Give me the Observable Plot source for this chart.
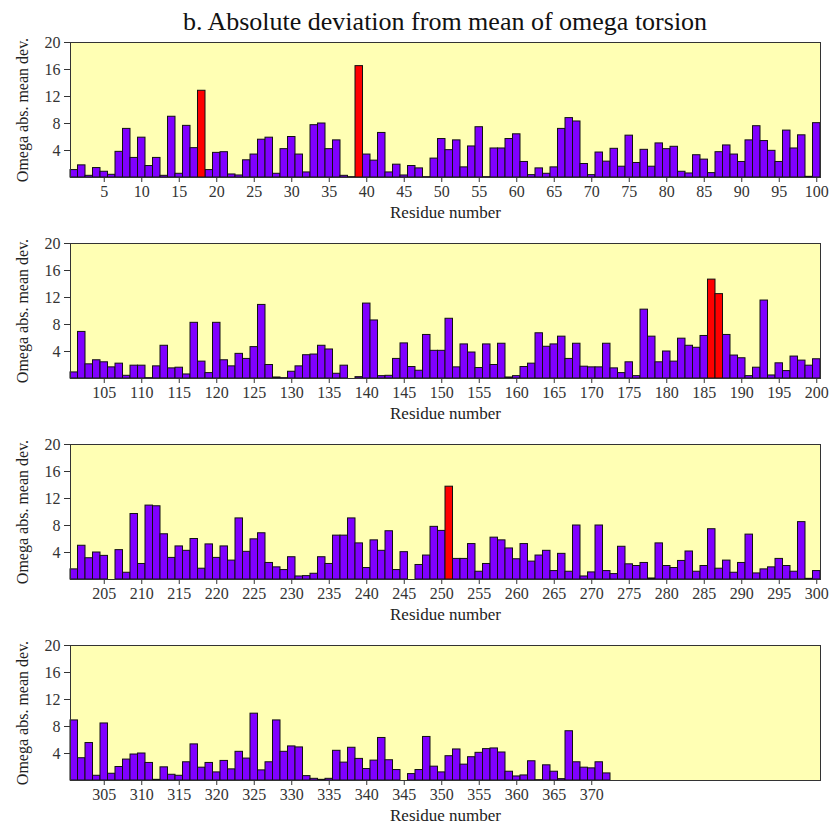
<!DOCTYPE html>
<html><head><meta charset="utf-8">
<script src="https://cdn.jsdelivr.net/npm/d3@7"></script>
<script src="https://cdn.jsdelivr.net/npm/@observablehq/plot@0.6"></script>
<style>
body{margin:0;background:#fff;font-family:"Liberation Serif",serif;}
#title{width:750px;margin-left:70px;height:34px;line-height:44px;text-align:center;font-size:26px;color:#111;white-space:nowrap;overflow:visible;}
svg{display:block;}
</style></head><body>
<div id="title">b. Absolute deviation from mean of omega torsion</div>
<div id="charts"></div>
<script>
// Omega absolute mean deviation per residue, residues 1-100
const panel1Values = [1.1,1.8,0.25,1.4,0.85,0.4,3.8,7.2,2.9,5.9,
1.7,2.9,0.25,9.0,0.55,7.65,4.35,12.85,1.1,3.65,
3.75,0.45,0.3,2.55,3.4,5.6,5.9,0.55,4.2,6.0,
3.4,0.75,7.75,8.0,4.2,5.5,0.25,0.05,16.5,3.4,
2.5,6.6,0.75,1.9,0.3,1.7,1.35,0.05,2.8,5.7,
4.05,5.5,1.5,4.6,7.45,0.05,4.3,4.3,5.7,6.4,
2.3,0.35,1.35,0.55,1.5,7.2,8.8,8.3,2.0,0.35,
3.7,2.35,4.25,1.6,6.2,2.15,4.1,1.6,5.05,4.2,
4.55,0.85,0.6,3.3,2.65,0.65,3.75,4.75,3.4,2.3,
5.5,7.6,5.4,3.95,2.3,6.95,4.3,6.25,0.1,8.05];
// residues 101-200
const panel2Values = [0.9,6.9,2.1,2.7,2.4,1.65,2.2,0.4,1.9,1.9,
0.05,1.8,4.85,1.5,1.6,0.6,8.25,2.5,0.8,8.25,
2.7,1.8,3.65,2.9,4.65,10.9,2.0,0.15,0.05,1.0,
1.8,3.45,3.55,4.85,4.3,0.7,1.9,0.0,0.2,11.1,
8.6,0.35,0.4,2.9,5.2,1.7,1.15,6.45,4.1,4.1,
8.85,1.65,5.05,3.85,1.55,5.05,2.0,5.15,0.15,0.35,
1.7,2.2,6.7,4.7,5.05,6.2,2.9,5.15,1.75,1.65,
1.65,5.15,1.5,0.8,2.4,0.35,10.2,6.2,2.4,4.0,
2.5,5.9,4.85,4.55,6.3,14.65,12.5,6.45,3.4,3.0,
0.35,1.6,11.55,0.45,2.25,1.1,3.25,2.65,1.9,2.85];
// residues 201-300
const panel3Values = [1.5,5.0,3.15,4.0,3.5,0.0,4.35,1.0,9.7,2.3,
10.95,10.85,6.7,3.2,4.9,4.25,6.0,1.6,5.2,3.2,
4.9,2.8,9.05,4.1,5.95,6.85,2.45,1.8,1.4,3.3,
0.45,0.5,0.85,3.3,2.3,6.5,6.5,9.05,5.35,1.7,
5.8,4.25,7.15,1.4,4.05,0.0,2.15,3.55,7.8,7.2,
13.75,3.05,3.05,5.25,1.15,2.3,6.2,5.8,4.6,3.0,
5.25,2.65,3.55,4.25,1.25,3.8,1.15,8.0,0.45,1.05,
8.0,1.25,0.8,4.85,2.25,2.0,2.45,0.15,5.35,2.0,
1.7,2.75,4.15,1.15,2.0,7.45,1.6,2.8,1.0,2.45,
6.65,0.9,1.5,1.8,3.05,2.0,1.15,8.5,0.1,1.25];
// residues 301-372
const panel4Values = [8.9,3.3,5.55,0.7,8.45,1.0,2.0,3.1,3.85,4.0,
2.6,0.1,1.95,0.85,0.7,2.7,5.35,1.9,2.6,1.2,
2.9,1.65,4.25,3.25,9.9,1.5,2.7,8.9,4.25,5.05,
4.9,0.65,0.25,0.1,0.25,4.4,2.65,4.85,3.2,1.7,
2.95,6.3,3.0,1.55,0.0,0.95,1.55,6.45,2.05,1.2,
3.6,4.6,2.35,3.45,4.1,4.65,4.75,4.15,1.3,0.6,
0.75,2.85,0.05,2.25,1.3,0.2,7.3,2.7,1.9,1.8,
2.7,1.05];
const panelStarts = [1, 101, 201, 301];
const lastResidue = 372;
const redResidues = [18, 39, 186, 187, 251];
const yTicks = [4, 8, 12, 16, 20];
const xLabel = "Residue number";
const yLabel = "Omega abs. mean dev.";
const font = "Liberation Serif";

const allValues = [panel1Values, panel2Values, panel3Values, panel4Values];
const container = document.getElementById("charts");

allValues.forEach((values, k) => {
  const start = panelStarts[k];
  const data = values.map((v, i) => ({residue: start + i, value: v}));
  const normal = data.filter(d => !redResidues.includes(d.residue));
  const flagged = data.filter(d => redResidues.includes(d.residue));
  const xTicks = d3.range(start + 4, Math.min(start + 100, lastResidue + 1), 5);
  const chart = Plot.plot({
    width: 830,
    height: 201,
    marginLeft: 70,
    marginRight: 10,
    marginTop: 8,
    marginBottom: 58,
    style: {fontFamily: font, fontSize: "16px", color: "#333", background: "#fff", overflow: "visible"},
    x: {domain: [start - 0.5, start + 99.5]},
    y: {domain: [0, 20]},
    marks: [
      Plot.frame({fill: "#ffffb4", stroke: "none"}),
      Plot.rectY(normal, {x1: d => d.residue - 0.5, x2: d => d.residue + 0.5, y: "value", fill: "#8000ff", stroke: "#111", strokeWidth: 1}),
      Plot.rectY(flagged, {x1: d => d.residue - 0.5, x2: d => d.residue + 0.5, y: "value", fill: "#ff0000", stroke: "#111", strokeWidth: 1}),
      Plot.frame({stroke: "#333", strokeWidth: 1}),
      Plot.axisY({ticks: yTicks, tickSize: 6, tickPadding: 4, label: null, fontFamily: font, fontSize: 16}),
      Plot.axisX({ticks: xTicks, tickSize: 5, tickPadding: 3, label: null, fontFamily: font, fontSize: 16}),
      Plot.text([xLabel], {frameAnchor: "bottom", dy: 40, fontSize: 17, fill: "#222", fontFamily: font}),
      Plot.text([yLabel], {frameAnchor: "left", dx: -48, rotate: -90, textAnchor: "middle", lineAnchor: "middle", fontSize: 16, fill: "#222", fontFamily: font})
    ]
  });
  container.appendChild(chart);
});
</script>
</body></html>
